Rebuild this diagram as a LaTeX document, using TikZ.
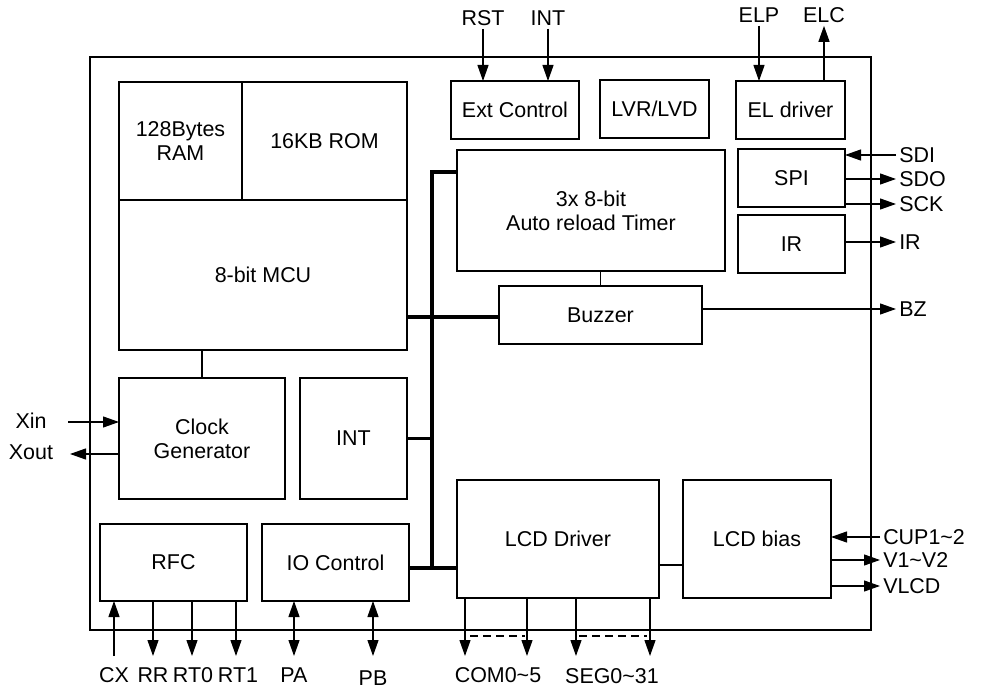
\documentclass[tikz,border=0pt]{standalone}
\usepackage{fontspec}
\setmainfont{Liberation Sans}
\usetikzlibrary{arrows.meta}

\begin{document}
\begin{tikzpicture}[x=0.2mm, y=-0.2mm, line width=0.7pt,
		font=\fontsize{12.2}{13.7}\selectfont,
		blk/.style 2 args={draw, align=center, inner sep=0pt, outer sep=0pt,
			minimum width=#1*0.2mm, minimum height=#2*0.2mm},
		pinlbl/.style={inner sep=1.5pt},
		arr/.style={-{Triangle[length=3.2mm, width=2.2mm]}},
		dbl/.style={{Triangle[length=3.2mm, width=2.2mm]}-{Triangle[length=3.2mm, width=2.2mm]}},
		bus/.style={line width=1.9pt}]
		
		\useasboundingbox (0,0) rectangle (982,688);
		
		% ----- Chip -----
		\draw[line width=1.2pt] (90,57) rectangle (871,630);
		
		% Bloecke links
		\node[blk={123}{118}] (ram) at (180.5,141) {128Bytes\\RAM};
		\node[blk={165}{118}] (rom) at (324.5,141) {16KB ROM};
		\node[blk={288}{150}] (mcu) at (263,275) {8-bit MCU};
		\node[blk={166}{121}] (clk) at (202,438.5) {Clock\\Generator};
		\node[blk={107}{121}] (intb) at (353.5,438.5) {INT};
		\node[blk={147}{77}] (rfc) at (173.5,562.5) {RFC};
		\node[blk={147}{77}] (ioc) at (335.5,562.5) {IO Control};
		
		% Bloecke rechts
		\node[blk={128}{58}] (extc) at (515,110) {Ext Control};
		\node[blk={109}{58}] (lvr) at (654.5,109) {LVR/LVD};
		\node[blk={109}{58}] (eldrv) at (790.5,110) {EL driver};
		\node[blk={268}{121}] (timer) at (591,210.5) {3x 8-bit\\Auto reload Timer};
		\node[blk={107}{58}] (spi) at (791.5,178) {SPI};
		\node[blk={107}{58}] (ir) at (791.5,244) {IR};
		\node[blk={203}{58}] (buzzer) at (600.5,315) {Buzzer};
		\node[blk={202}{118}] (lcd) at (558,539) {LCD Driver};
		\node[blk={148}{118}] (bias) at (757,539) {LCD bias};
		
		% Bus
		\coordinate (bustop) at (432,172);
		\coordinate (busmid) at (432,317);
		\coordinate (busbot) at (432,568);
		\draw[bus] (bustop -| timer.west) -- (bustop) -- (busbot);
		\draw[bus] (busmid -| mcu.east) -- (busmid -| buzzer.west);
		\draw[bus] (intb.east) -- (intb.east -| bustop);
		\draw[bus] (busbot -| ioc.east) -- (busbot -| lcd.west);
		
		% interne Verbindungen
		\draw (clk.north) -- (clk.north |- mcu.south);
		\draw (buzzer.north) -- (buzzer.north |- timer.south);
		\coordinate (lcdlink) at (670,565);
		\draw (lcdlink -| lcd.east) -- (lcdlink -| bias.west);
		
		% Pins oben
		\node[pinlbl] (rst) at (483,18) {RST};
		\node[pinlbl] (intp) at (548,18) {INT};
		\node[pinlbl] (elp) at (759,15) {ELP};
		\node[pinlbl] (elc) at (824,15) {ELC};
		\draw[arr] (rst.south) -- (rst.south |- extc.north);
		\draw[arr] (intp.south) -- (intp.south |- extc.north);
		\draw[arr] (elp.south) -- (elp.south |- eldrv.north);
		\draw[arr] (elc.south |- eldrv.north) -- (elc.south);
		
		% Pins rechts
		\node[pinlbl, anchor=west] (sdi) at (896,155) {SDI};
		\node[pinlbl, anchor=west] (sdo) at (896,179) {SDO};
		\node[pinlbl, anchor=west] (sck) at (896,204) {SCK};
		\node[pinlbl, anchor=west] (irp) at (896,242) {IR};
		\node[pinlbl, anchor=west] (bz) at (896,309) {BZ};
		\node[pinlbl, anchor=west] (cup) at (880,537) {CUP1\textasciitilde 2};
		\node[pinlbl, anchor=west] (vv) at (880,560) {V1\textasciitilde V2};
		\node[pinlbl, anchor=west] (vlcd) at (880,586) {VLCD};
		\draw[arr] (sdi.west) -- (sdi.west -| spi.east);
		\draw[arr] (sdo.west -| spi.east) -- (sdo.west);
		\draw[arr] (sck.west -| spi.east) -- (sck.west);
		\draw[arr] (irp.west -| ir.east) -- (irp.west);
		\draw[arr] (bz.west -| buzzer.east) -- (bz.west);
		\draw[arr] (cup.west) -- (cup.west -| bias.east);
		\draw[arr] (vv.west -| bias.east) -- (vv.west);
		\draw[arr] (vlcd.west -| bias.east) -- (vlcd.west);
		
		% Pins links
		\node[pinlbl] (xin) at (31,421) {Xin};
		\node[pinlbl] (xout) at (31,452) {Xout};
		\coordinate (xinp) at (68,422);
		\coordinate (xoutp) at (70,454);
		\draw[arr] (xinp) -- (xinp -| clk.west);
		\draw[arr] (xoutp -| clk.west) -- (xoutp);
		
		% Pins unten
		\node[pinlbl] (cx) at (114,675) {CX};
		\node[pinlbl] (rr) at (153,675) {RR};
		\node[pinlbl] (rt0) at (193,675) {RT0};
		\node[pinlbl] (rt1) at (238,675) {RT1};
		\node[pinlbl] (pa) at (294,675) {PA};
		\node[pinlbl] (pb) at (373,678) {PB};
		\node[pinlbl] (com) at (498,675) {COM0\textasciitilde 5};
		\node[pinlbl] (seg) at (612,676) {SEG0\textasciitilde 31};
		\coordinate (cxp) at (114,656);
		\coordinate (rrp) at (153,656);
		\coordinate (rt0p) at (192,656);
		\coordinate (rt1p) at (236,656);
		\coordinate (pap) at (294,656);
		\coordinate (pbp) at (373,656);
		\coordinate (com0) at (465,656);
		\coordinate (com5) at (527,656);
		\coordinate (seg0) at (576,656);
		\coordinate (seg31) at (650,656);
		\draw[arr] (cxp) -- (cxp |- rfc.south);
		\draw[arr] (rrp |- rfc.south) -- (rrp);
		\draw[arr] (rt0p |- rfc.south) -- (rt0p);
		\draw[arr] (rt1p |- rfc.south) -- (rt1p);
		\draw[dbl] (pap |- ioc.south) -- (pap);
		\draw[dbl] (pbp |- ioc.south) -- (pbp);
		\draw[arr] (com0 |- lcd.south) -- (com0);
		\draw[arr] (com5 |- lcd.south) -- (com5);
		\draw[arr] (seg0 |- lcd.south) -- (seg0);
		\draw[arr] (seg31 |- lcd.south) -- (seg31);
		
		% gestrichelt
		\draw[dash pattern=on 1.6mm off 1mm] (470,636) -- (525,636);
		\draw[dash pattern=on 1.6mm off 1mm] (579,636) -- (647,636);
		
	\end{tikzpicture}
\end{document}
